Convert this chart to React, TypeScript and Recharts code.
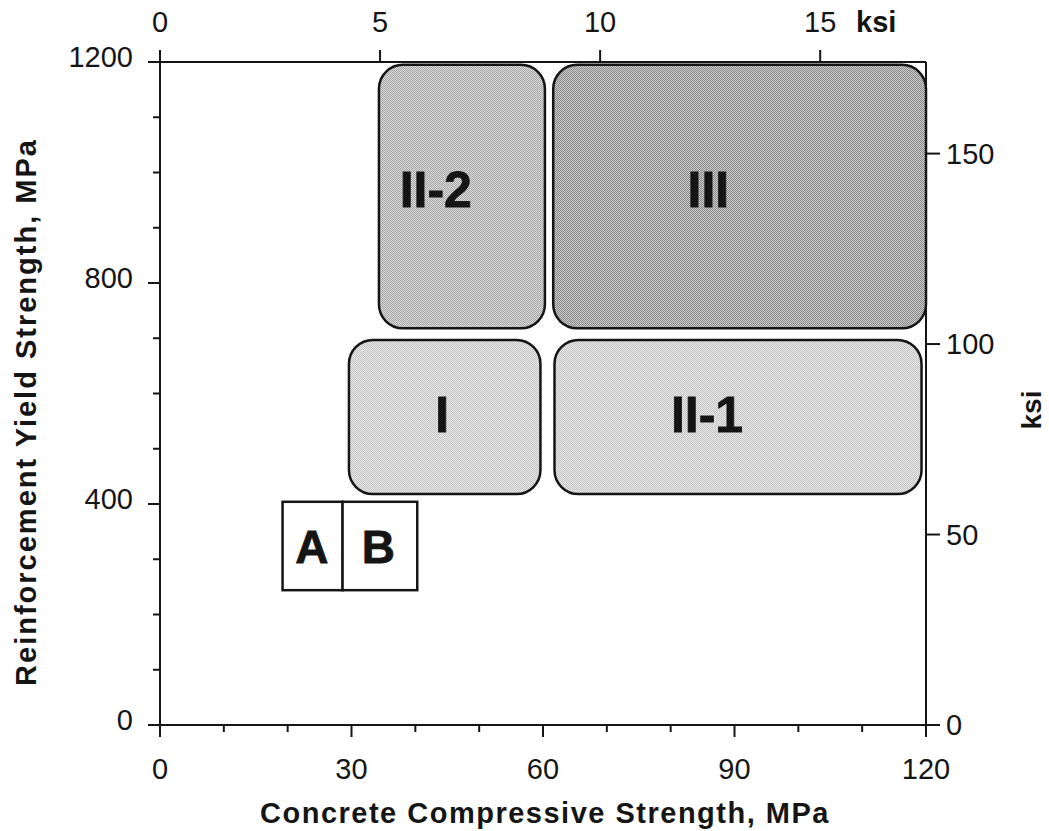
import React from 'react';
import { ComposedChart, XAxis, YAxis, ReferenceArea, Scatter } from 'recharts';

// ---------- data ----------
const MPA_PER_KSI = 6.895;

const regionNames = ['II-2', 'III', 'I', 'II-1', 'A', 'B'];
const regionX1 = [34.3, 61.6, 29.6, 61.8, 19.2, 28.6];
const regionX2 = [60.3, 120, 59.6, 119.3, 28.6, 40.3];
const regionY1 = [718, 718, 418, 418, 244, 244];
const regionY2 = [1195, 1195, 697, 697, 404, 404];
const labelX = [43.2, 85.9, 44.2, 85.7, 23.8, 34.2];
const labelY = [968, 968, 561, 561, 322, 322];

const mpaXTicks = [0, 10, 20, 30, 40, 50, 60, 70, 80, 90, 100, 110, 120];
const mpaYTicks = [0, 100, 200, 300, 400, 500, 600, 700, 800, 900, 1000, 1100, 1200];
const ksiXTicks = [0, 5, 10, 15];
const ksiYTicks = [0, 50, 100, 150];

// ---------- styles ----------
const FONT = '"Liberation Sans", Arial, Helvetica, sans-serif';
const INK = '#151515';
const TICK_FS = 29;
const regionStyle: Record<string, { fill: string; r: number; size: number }> = {
  'II-2': { fill: 'url(#dotMed)', r: 24, size: 50 },
  III: { fill: 'url(#dotDark)', r: 24, size: 50 },
  I: { fill: 'url(#dotLight)', r: 24, size: 50 },
  'II-1': { fill: 'url(#dotLight)', r: 24, size: 50 },
  A: { fill: '#ffffff', r: 0, size: 46 },
  B: { fill: '#ffffff', r: 0, size: 46 },
};

const labelData = regionNames.map((name, i) => ({ x: labelX[i], y: labelY[i], name }));
const ksiAnchorData = ksiXTicks.map((k) => ({ k, y: 0 }));

const BottomTick = (p: any) => {
  const v = p.payload.value;
  const major = v % 30 === 0;
  return (
    <g>
      <line x1={p.x} x2={p.x} y1={p.y} y2={p.y + (major ? 12 : 7)} stroke={INK} strokeWidth={2} />
      {major && (
        <text x={p.x} y={p.y + 54} textAnchor="middle" fontSize={TICK_FS} fontFamily={FONT} fill={INK}>
          {v}
        </text>
      )}
    </g>
  );
};

const LeftTick = (p: any) => {
  const v = p.payload.value;
  const major = v % 400 === 0;
  return (
    <g>
      <line x1={p.x} x2={p.x - (major ? 12 : 7)} y1={p.y} y2={p.y} stroke={INK} strokeWidth={2} />
      {major && (
        <text x={p.x - 27} y={p.y + 5} textAnchor="end" fontSize={TICK_FS} fontFamily={FONT} fill={INK}>
          {v}
        </text>
      )}
    </g>
  );
};

const TopTick = (p: any) => {
  const v = p.payload.value;
  return (
    <g>
      <line x1={p.x} x2={p.x} y1={p.y} y2={p.y - 12} stroke={INK} strokeWidth={2} />
      <text x={p.x} y={p.y - 30} textAnchor="middle" fontSize={TICK_FS} fontFamily={FONT} fill={INK}>
        {v}
      </text>
    </g>
  );
};

const RightTick = (p: any) => {
  const v = p.payload.value;
  return (
    <g>
      <line x1={p.x} x2={p.x + 14} y1={p.y} y2={p.y} stroke={INK} strokeWidth={2} />
      <text x={p.x + 20} y={p.y + 10} textAnchor="start" fontSize={TICK_FS} fontFamily={FONT} fill={INK}>
        {v}
      </text>
    </g>
  );
};

const makeShape = (name: string) => (p: any) => {
  const st = regionStyle[name];
  return (
    <rect
      x={p.x}
      y={p.y}
      width={p.width}
      height={p.height}
      rx={st.r}
      ry={st.r}
      fill={st.fill}
      stroke={INK}
      strokeWidth={2.5}
    />
  );
};

const LabelShape = (p: any) => {
  const name = p.payload.name;
  const st = regionStyle[name];
  return (
    <text
      x={p.cx}
      y={p.cy}
      textAnchor="middle"
      dominantBaseline="central"
      fontSize={st.size}
      fontWeight="bold"
      fontFamily={FONT}
      fill={INK}
      stroke={INK}
      strokeWidth={0.8}
    >
      {name}
    </text>
  );
};

const Nothing = () => <g />;

export default function App() {
  return (
    <div style={{ position: 'absolute', left: 0, top: 0, width: 1049, height: 831, background: '#fff' }}>
      <ComposedChart
        width={1049}
        height={831}
        margin={{ top: 22, right: 63, bottom: 66, left: 100 }}
      >
        <defs>
          <pattern id="dotDark" width="2" height="2" patternUnits="userSpaceOnUse">
            <rect width="2" height="2" fill="#cacaca" />
            <rect x="0" y="0" width="1" height="1" fill="#8a8a8a" />
            <rect x="1" y="1" width="1" height="1" fill="#8a8a8a" />
          </pattern>
          <pattern id="dotMed" width="2" height="2" patternUnits="userSpaceOnUse">
            <rect width="2" height="2" fill="#dadada" />
            <rect x="0" y="0" width="1" height="1" fill="#a6a6a6" />
            <rect x="1" y="1" width="1" height="1" fill="#a6a6a6" />
          </pattern>
          <pattern id="dotLight" width="2" height="2" patternUnits="userSpaceOnUse">
            <rect width="2" height="2" fill="#e8e8e8" />
            <rect x="0" y="0" width="1" height="1" fill="#c4c4c4" />
            <rect x="1" y="1" width="1" height="1" fill="#c4c4c4" />
          </pattern>
        </defs>
        <XAxis
          xAxisId="mpa"
          dataKey="x"
          type="number"
          orientation="bottom"
          domain={[0, 120]}
          allowDataOverflow
          ticks={mpaXTicks}
          interval={0}
          tickSize={0}
          tickMargin={0}
          tickLine={false}
          tick={<BottomTick />}
          axisLine={{ stroke: INK, strokeWidth: 2 }}
          height={40}
          label={() => (
            <text
              x={545}
              y={823}
              textAnchor="middle"
              fontSize={29}
              fontWeight="bold"
              fontFamily={FONT}
              letterSpacing={1.5}
              fill={INK}
            >
              Concrete Compressive Strength, MPa
            </text>
          )}
        />
        <XAxis
          xAxisId="ksi"
          dataKey="k"
          type="number"
          orientation="top"
          domain={[0, 120 / MPA_PER_KSI]}
          allowDataOverflow
          ticks={ksiXTicks}
          interval={0}
          tickSize={0}
          tickMargin={0}
          tickLine={false}
          tick={<TopTick />}
          axisLine={{ stroke: INK, strokeWidth: 2 }}
          height={40}
          label={() => (
            <text x={856} y={32} textAnchor="start" fontSize={29} fontWeight="bold" fontFamily={FONT} fill={INK}>
              ksi
            </text>
          )}
        />
        <YAxis
          yAxisId="mpa"
          dataKey="y"
          type="number"
          orientation="left"
          domain={[0, 1200]}
          allowDataOverflow
          ticks={mpaYTicks}
          interval={0}
          tickSize={0}
          tickMargin={0}
          tickLine={false}
          tick={<LeftTick />}
          axisLine={{ stroke: INK, strokeWidth: 2 }}
          width={60}
          label={() => (
            <text
              x={36}
              y={412}
              transform="rotate(-90 36 412)"
              textAnchor="middle"
              fontSize={29}
              fontWeight="bold"
              fontFamily={FONT}
              letterSpacing={2}
              fill={INK}
            >
              Reinforcement Yield Strength, MPa
            </text>
          )}
        />
        <YAxis
          yAxisId="ksi"
          type="number"
          orientation="right"
          domain={[0, 1200 / MPA_PER_KSI]}
          allowDataOverflow
          ticks={ksiYTicks}
          interval={0}
          tickSize={0}
          tickMargin={0}
          tickLine={false}
          tick={<RightTick />}
          axisLine={{ stroke: INK, strokeWidth: 2 }}
          width={60}
          label={() => (
            <text
              x={1041}
              y={410}
              transform="rotate(-90 1041 410)"
              textAnchor="middle"
              fontSize={28}
              fontWeight="bold"
              fontFamily={FONT}
              fill={INK}
            >
              ksi
            </text>
          )}
        />
        {regionNames.map((name, i) => (
          <ReferenceArea
            key={name}
            xAxisId="mpa"
            yAxisId="mpa"
            x1={regionX1[i]}
            x2={regionX2[i]}
            y1={regionY1[i]}
            y2={regionY2[i]}
            ifOverflow="visible"
            shape={makeShape(name)}
          />
        ))}
        <Scatter
          xAxisId="ksi"
          yAxisId="mpa"
          data={ksiAnchorData}
          isAnimationActive={false}
          shape={<Nothing />}
        />
        <Scatter
          xAxisId="mpa"
          yAxisId="mpa"
          data={labelData}
          isAnimationActive={false}
          shape={<LabelShape />}
        />
      </ComposedChart>
    </div>
  );
}
